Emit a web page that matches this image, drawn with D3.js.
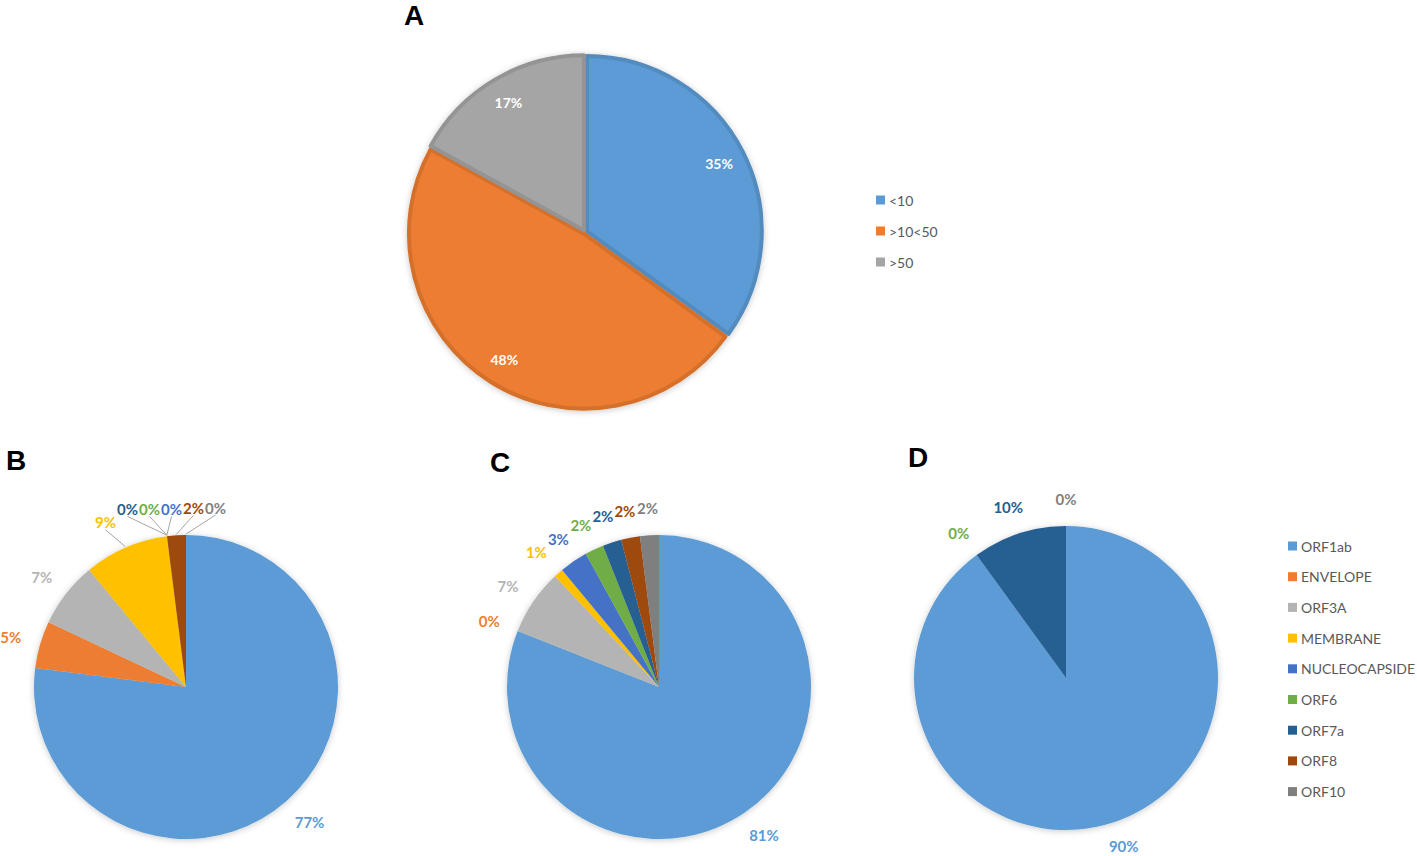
<!DOCTYPE html>
<html>
<head>
<meta charset="utf-8">
<script src="https://cdn.jsdelivr.net/npm/d3@7"></script>
<style>
  body { margin: 0; background: #fff; }
  text { font-family: Lato, "Open Sans", sans-serif; }
</style>
</head>
<body>
<script>
// panel A data
var sizeCats = ["<10", ">10<50", ">50"];
var sizeValues = [35, 48, 17];
var sizeColors = ["#5B9BD5", "#ED7D31", "#A5A5A5"];

// panels B, C, D share the gene categories
var genes = ["ORF1ab", "ENVELOPE", "ORF3A", "MEMBRANE", "NUCLEOCAPSIDE", "ORF6", "ORF7a", "ORF8", "ORF10"];
var geneColors = ["#5B9BD5", "#ED7D31", "#B4B4B4", "#FFC000", "#4472C4", "#70AD47", "#255E91", "#9E480E", "#7F7F7F"];
var valuesB = [77, 5, 7, 9, 0, 0, 0, 2, 0];
var valuesC = [81, 0, 7, 1, 3, 2, 2, 2, 2];
var valuesD = [90, null, null, null, null, 0, 10, null, 0];   // null = not in panel D

var W = 1417, H = 856;
var svg = d3.select("body").append("svg").attr("width", W).attr("height", H);

var defs = svg.append("defs");
defs.append("filter").attr("id", "shadow")
    .attr("x", "-20%").attr("y", "-20%").attr("width", "140%").attr("height", "140%")
  .append("feDropShadow")
    .attr("dx", 0).attr("dy", 1).attr("stdDeviation", 3)
    .attr("flood-color", "#000").attr("flood-opacity", 0.22);

function rows(cats, values, colors) {
    return cats.map(function(c, i) { return {cat: c, value: values[i], color: colors[i], idx: i}; })
        .filter(function(d) { return d.value !== null; });
}

var pie = d3.pie().sort(null).value(function(d) { return d.value; });

// outside labels; neighbours that collide get pushed apart along the rim
function outsideLabels(g, arcs, r, cy) {
    var labels = arcs.map(function(a) {
        var ang = (a.startAngle + a.endAngle) / 2;
        return {a: a, ang: ang, idx: a.data.idx, x0: Math.sin(ang) * (r + 20), y0: -Math.cos(ang) * (r + 20)};
    });
    var t = g.selectAll("text.lab").data(labels).enter().append("text")
        .attr("class", "lab")
        .attr("text-anchor", "middle")
        .attr("dominant-baseline", "central")
        .attr("font-size", 15)
        .attr("font-weight", "bold")
        .attr("fill", function(d) { return d.a.data.color; })
        .text(function(d) { return Math.round(d.a.data.value) + "%"; });
    t.each(function(d) {
        d.w = this.getComputedTextLength();
        d.h = 15;
        d.x = d.x0 + Math.sin(d.ang) * d.w / 2;
        d.y = Math.min(d.y0 - Math.cos(d.ang) * d.h / 2, H - 10 - cy);
        d.nx = d.x; d.ny = d.y;
    });
    var sorted = labels.slice().sort(function(p, q) { return (p.ang - q.ang) || (q.idx - p.idx); });
    for (var it = 0; it < 200; it++) {
        var any = false;
        for (var k = 0; k < sorted.length - 1; k++) {
            var p = sorted[k], q = sorted[k + 1];
            var ox = (p.w + q.w) / 2 + 1 - Math.abs(q.x - p.x);
            var oy = 14 - Math.abs(q.y - p.y);
            if (ox <= 0 || oy <= 0) continue;
            any = true;
            var m = (p.ang + q.ang) / 2;
            if (Math.abs(Math.cos(m)) > Math.abs(Math.sin(m))) {
                var sx = Math.cos(m) > 0 ? 1 : -1;
                p.x -= sx * ox / 2; q.x += sx * ox / 2;
            } else {
                var sy = Math.sin(m) > 0 ? 1 : -1;
                p.y -= sy * oy / 2; q.y += sy * oy / 2;
            }
        }
        if (!any) break;
    }
    t.attr("x", function(d) { return d.x; }).attr("y", function(d) { return d.y; });
    // leader lines where a label got pushed off its slice
    labels.forEach(function(d) {
        var moved = Math.hypot(d.x - d.nx, d.y - d.ny);
        if (moved < 6) return;
        var ex = Math.sin(d.ang) * (r + 1), ey = -Math.cos(d.ang) * (r + 1);
        g.insert("line", "text")
            .attr("x1", ex).attr("y1", ey)
            .attr("x2", d.x).attr("y2", d.y + d.h / 2)
            .attr("stroke", "#A6A6A6").attr("stroke-width", 1);
    });
}

function drawGenePie(cx, cy, r, values) {
    var g = svg.append("g").attr("transform", "translate(" + cx + "," + cy + ")");
    var arcs = pie(rows(genes, values, geneColors));
    var arc = d3.arc().innerRadius(0).outerRadius(r);
    g.append("g").attr("filter", "url(#shadow)")
      .selectAll("path").data(arcs).enter().append("path")
        .attr("d", arc)
        .attr("fill", function(d) { return d.data.color; });
    outsideLabels(g, arcs, r, cy);
}

// ---- panel A ----
(function() {
    var cx = 585, cy = 232, r = 175;
    var g = svg.append("g").attr("transform", "translate(" + cx + "," + cy + ")");
    var arcs = pie(rows(sizeCats, sizeValues, sizeColors));
    var arc = d3.arc().innerRadius(0).outerRadius(r);
    var sl = g.append("g").attr("filter", "url(#shadow)");
    sl.selectAll("path").data(arcs).enter().append("path")
        .attr("transform", function(d) {
            var m = (d.startAngle + d.endAngle) / 2;
            return "translate(" + (Math.sin(m) * 2) + "," + (-Math.cos(m) * 2) + ")";
        })
        .attr("d", arc)
        .attr("fill", function(d) { return d.data.color; })
        .attr("stroke", function(d) { return d3.color(d.data.color).darker(0.3); })
        .attr("stroke-width", 4)
        .attr("stroke-linejoin", "round");
    g.selectAll("text").data(arcs).enter().append("text")
        .attr("x", function(d) { return Math.sin((d.startAngle + d.endAngle) / 2) * r * 0.86; })
        .attr("y", function(d) { return -Math.cos((d.startAngle + d.endAngle) / 2) * r * 0.86; })
        .attr("text-anchor", "middle")
        .attr("dominant-baseline", "central")
        .attr("font-size", 14).attr("font-weight", "bold")
        .attr("fill", "#fff")
        .text(function(d) { return d.data.value + "%"; });

    var lg = svg.append("g").attr("transform", "translate(876,200)");
    var it = lg.selectAll("g").data(sizeCats).enter().append("g")
        .attr("transform", function(d, i) { return "translate(0," + i * 31 + ")"; });
    it.append("rect").attr("x", 0).attr("y", -4.5).attr("width", 9).attr("height", 9)
        .attr("fill", function(d, i) { return sizeColors[i]; });
    it.append("text").attr("x", 13).attr("y", 0).attr("dominant-baseline", "central")
        .attr("font-size", 14).attr("fill", "#595959").text(function(d) { return d; });
})();

// ---- panels B, C, D ----
drawGenePie(186, 687, 152, valuesB);
drawGenePie(659, 687, 152, valuesC);
drawGenePie(1066, 678, 152, valuesD);

// shared legend
var lg2 = svg.append("g").attr("transform", "translate(1288,546)");
var it2 = lg2.selectAll("g").data(genes).enter().append("g")
    .attr("transform", function(d, i) { return "translate(0," + i * 30.7 + ")"; });
it2.append("rect").attr("x", 0).attr("y", -4.5).attr("width", 9).attr("height", 9)
    .attr("fill", function(d, i) { return geneColors[i]; });
it2.append("text").attr("x", 13).attr("y", 0).attr("dominant-baseline", "central")
    .attr("font-size", 14).attr("fill", "#595959").text(function(d) { return d; });

// panel letters
var letters = [["A", 414, 15], ["B", 16, 460], ["C", 500, 462], ["D", 918, 457]];
svg.selectAll("text.letter").data(letters).enter().append("text")
    .attr("class", "letter")
    .attr("x", function(d) { return d[1]; }).attr("y", function(d) { return d[2]; })
    .attr("text-anchor", "middle").attr("dominant-baseline", "central")
    .style("font-family", "Liberation Sans, Arial, sans-serif")
    .attr("font-size", 28).attr("font-weight", "bold").attr("fill", "#000")
    .text(function(d) { return d[0]; });
</script>
</body>
</html>
